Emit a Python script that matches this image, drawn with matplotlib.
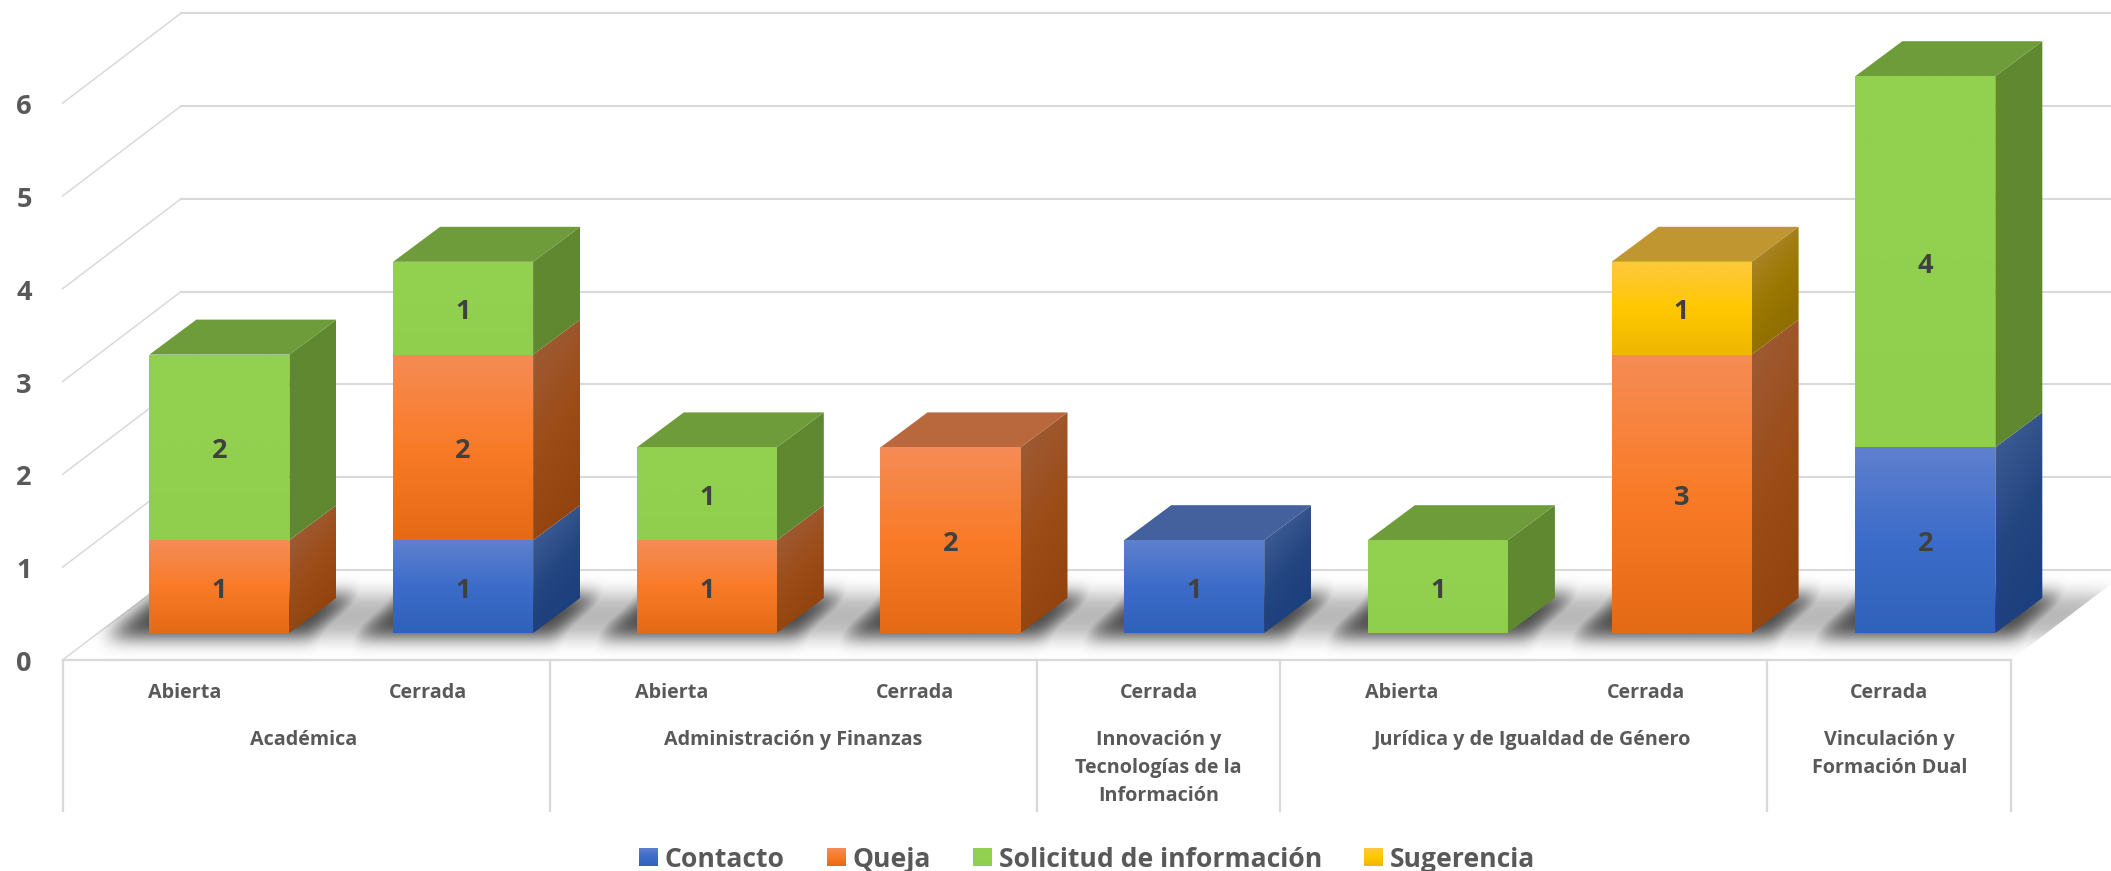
"""Stacked pseudo-3D column chart of requests per area and status."""

import matplotlib

matplotlib.use("Agg")

import matplotlib.pyplot as plt
import numpy as np
from matplotlib.patches import Polygon

W, H = 2111, 871

# data
status = ["Abierta", "Cerrada", "Abierta", "Cerrada", "Cerrada", "Abierta", "Cerrada", "Cerrada"]
groups = ["Académica", "Administración y Finanzas", "Innovación y\nTecnologías de la\nInformación",
          "Jurídica y de Igualdad de Género", "Vinculación y\nFormación Dual"]
group_sizes = [2, 2, 1, 2, 1]
series_names = ["Contacto", "Queja", "Solicitud de información", "Sugerencia"]
contacto = [0, 1, 0, 0, 1, 0, 0, 2]
queja = [1, 2, 1, 2, 0, 0, 3, 0]
solicitud = [2, 1, 1, 0, 0, 1, 0, 4]
sugerencia = [0, 0, 0, 0, 0, 0, 1, 0]
y_ticks = [0, 1, 2, 3, 4, 5, 6]

# colours: front gradient, side gradient, top
front_stops = [["#5F80CE", "#3C6CC9", "#2F62BA"], ["#F58C55", "#F97B28", "#E56A16"],
               ["#92D050", "#92D050", "#90CF4E"], ["#FFC83D", "#FFC800", "#EEB700"]]
side_stops = [["#3B5A92", "#234580", "#1C3F7E"], ["#9E5A33", "#9C4C17", "#93440E"],
              ["#5F8830", "#5F8830", "#5F8830"], ["#A98324", "#9A7700", "#8F6E00"]]
top_colors = ["#44619E", "#B9683E", "#6F9C3B", "#C09630"]
GRID = "#D9D9D9"
AXIS_TEXT = "#595959"
LABEL_TEXT = "#404040"

# layout, in pixels of the picture
PX_PER_CAT, PX_PER_UNIT = 243.7, 92.8
FIRST_BAR_PX, BASE_PX = 219.4, 633.0
GROUP_NUDGE_PX = [-2, 0, 0, 8, 0]
TEXT_DROP = 4 / PX_PER_UNIT


def X(px):
    return (px - FIRST_BAR_PX) / PX_PER_CAT


def Y(py):
    return (BASE_PX - py) / PX_PER_UNIT


BAR_W = 140 / PX_PER_CAT
DEPTH_X, DEPTH_Y = 47 / PX_PER_CAT, 35 / PX_PER_UNIT
WALL_X0, WALL_X1, WALL_X_END = X(62.5), X(181), X(2111)
FRONT_Y0, BACK_Y0 = Y(660), Y(570)
FLOOR_X_END = X(2011)
AXIS_BOTTOM = Y(811)


def to_rgb(color):
    return np.array(matplotlib.colors.to_rgb(color))


def gradient_face(ax, x0, x1, y0, y1, stops, zorder, skew=0.0):
    """Paint a face with a top-to-bottom gradient, skewed along the slant for side faces."""
    top = y1 + skew
    nx, ny = 24, 160
    gx = np.linspace(0, 1, nx)
    gy = np.linspace(top, y0, ny)
    yy = gy[:, None] - gx[None, :] * skew
    t = np.clip((y1 - yy) / (y1 - y0), 0, 1)
    if skew:
        t = t * 0.85 + gx[None, :] * 0.15
    rgb = np.stack([np.interp(t, [0, 0.5, 1], [to_rgb(c)[k] for c in stops]) for k in range(3)], axis=-1)
    img = ax.imshow(rgb, extent=(x0, x1, y0, top), origin="upper", aspect="auto",
                    interpolation="bilinear", zorder=zorder)
    poly = Polygon([(x0, y0), (x1, y0 + skew), (x1, y1 + skew), (x0, y1)], closed=True,
                   transform=ax.transData, facecolor="none", edgecolor="none")
    ax.add_patch(poly)
    img.set_clip_path(poly)


def blur(mask, sigma):
    radius = int(3 * sigma)
    kernel = np.exp(-0.5 * (np.arange(-radius, radius + 1) / sigma) ** 2)
    kernel /= kernel.sum()
    mask = np.apply_along_axis(lambda r: np.convolve(r, kernel, mode="same"), 0, mask)
    return np.apply_along_axis(lambda r: np.convolve(r, kernel, mode="same"), 1, mask)


def draw_shadow(ax, n_bars):
    left_ext, right_ext, shift = 45 / PX_PER_CAT, 21 / PX_PER_CAT, 53 / PX_PER_CAT
    y_low, y_high = Y(638), Y(594)
    gx = np.linspace(X(40), X(2150), 2110)
    gy = np.linspace(Y(700), Y(530), 170)
    xx, yy = np.meshgrid(gx, gy)
    depth = (yy - y_low) / (y_high - y_low)
    inside = (depth >= 0) & (depth <= 1)
    dark = np.zeros_like(xx)
    for i in range(n_bars):
        left = i - BAR_W / 2 - left_ext + depth * shift
        right = i + BAR_W / 2 + right_ext + depth * shift
        dark[inside & (xx >= left) & (xx <= right)] = 1.0
    band = inside & (xx >= -BAR_W / 2 - left_ext + depth * shift) \
        & (xx <= n_bars - 1 + BAR_W / 2 + right_ext + 50 / PX_PER_CAT + depth * shift)
    alpha = np.maximum(0.72 * blur(dark, 9.0), 0.28 * blur(band.astype(float), 9.0))
    rgba = np.zeros(alpha.shape + (4,))
    rgba[..., 3] = alpha
    img = ax.imshow(rgba, extent=(gx[0], gx[-1], gy[-1], gy[0]), origin="upper", aspect="auto",
                    interpolation="bilinear", zorder=2)
    floor = Polygon([(WALL_X0, FRONT_Y0), (WALL_X1, BACK_Y0),
                     (FLOOR_X_END + WALL_X1 - WALL_X0, BACK_Y0), (FLOOR_X_END, FRONT_Y0)],
                    closed=True, transform=ax.transData, facecolor="none", edgecolor="none")
    ax.add_patch(floor)
    img.set_clip_path(floor)


def main() -> None:
    plt.rcParams["font.family"] = ["Open Sans", "DejaVu Sans"]
    fig = plt.figure(figsize=(W / 100, H / 100), dpi=100)
    ax = fig.add_axes([0, 0, 1, 1])
    ax.set_axis_off()

    series = [contacto, queja, solicitud, sugerencia]
    n_bars = len(status)

    # walls, gridlines and floor
    for v in y_ticks:
        ax.plot([WALL_X0, WALL_X1], [FRONT_Y0 + v, BACK_Y0 + v], color=GRID, lw=1.1, zorder=1)
        ax.plot([WALL_X1, WALL_X_END], [BACK_Y0 + v, BACK_Y0 + v], color=GRID, lw=1.5, zorder=1)
        ax.text(X(24), FRONT_Y0 + v - TEXT_DROP, str(v), ha="center", va="center", fontsize=19.5,
                fontweight="bold", color=AXIS_TEXT)
    draw_shadow(ax, n_bars)

    # multi-level category axis
    ax.plot([WALL_X0, FLOOR_X_END], [FRONT_Y0, FRONT_Y0], color=GRID, lw=1.6, zorder=1)
    edges = WALL_X0 + np.concatenate([[0], np.cumsum(group_sizes)]) * (FLOOR_X_END - WALL_X0) / n_bars
    for edge in edges:
        ax.plot([edge, edge], [FRONT_Y0, AXIS_BOTTOM], color=GRID, lw=1.6, zorder=1)
    for i, name in enumerate(status):
        ax.text(WALL_X0 + (i + 0.5) * (FLOOR_X_END - WALL_X0) / n_bars, Y(693), name, ha="center",
                va="center", fontsize=14.2, fontweight="bold", color=AXIS_TEXT)
    for name, a, b, nudge in zip(groups, edges[:-1], edges[1:], GROUP_NUDGE_PX):
        ax.text((a + b) / 2 + nudge / PX_PER_CAT, Y(730), name, ha="center", va="top", fontsize=14.2,
                fontweight="bold", color=AXIS_TEXT, linespacing=1.52)

    # stacked bars
    bottoms = np.zeros(n_bars)
    tops = np.sum(series, axis=0)
    for s, values in enumerate(series):
        for i, v in enumerate(values):
            if v == 0:
                continue
            y0, y1 = bottoms[i], bottoms[i] + v
            x0, x1 = i - BAR_W / 2, i + BAR_W / 2
            z = 10 + i
            gradient_face(ax, x1, x1 + DEPTH_X, y0, y1, side_stops[s], z, skew=DEPTH_Y)
            gradient_face(ax, x0, x1, y0, y1, front_stops[s], z + 0.1)
            if y1 == tops[i]:
                ax.fill([x0, x1, x1 + DEPTH_X, x0 + DEPTH_X], [y1, y1, y1 + DEPTH_Y, y1 + DEPTH_Y],
                        color=top_colors[s], lw=0, zorder=z)
            ax.text(i, (y0 + y1) / 2 - TEXT_DROP, str(v), ha="center", va="center", fontsize=19.5,
                    fontweight="bold", color=LABEL_TEXT, zorder=30)
        bottoms += np.array(values)

    # legend
    swatch_px = [639, 827, 973, 1364]
    for name, px, stops in zip(series_names, swatch_px, front_stops):
        gradient_face(ax, X(px), X(px + 19), Y(866), Y(848), stops, 5)
        ax.text(X(px + 26), Y(860), name, ha="left", va="center", fontsize=19.1, fontweight="bold",
                color=AXIS_TEXT)

    ax.set_xlim(X(0), X(W))
    ax.set_ylim(Y(H), Y(0))
    fig.savefig("out.png", dpi=100)
    plt.close(fig)


if __name__ == "__main__":
    main()
